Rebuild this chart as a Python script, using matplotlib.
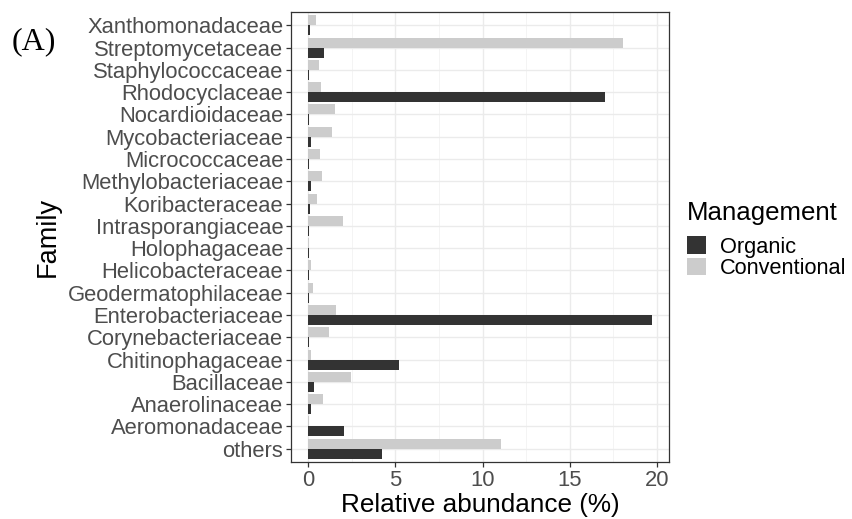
import matplotlib
matplotlib.use("Agg")
import matplotlib.pyplot as plt
import numpy as np
from matplotlib.patches import Patch

families = ["Xanthomonadaceae", "Streptomycetaceae", "Staphylococcaceae", "Rhodocyclaceae",
            "Nocardioidaceae", "Mycobacteriaceae", "Micrococcaceae", "Methylobacteriaceae",
            "Koribacteraceae", "Intrasporangiaceae", "Holophagaceae", "Helicobacteraceae",
            "Geodermatophilaceae", "Enterobacteriaceae", "Corynebacteriaceae", "Chitinophagaceae",
            "Bacillaceae", "Anaerolinaceae", "Aeromonadaceae", "others"]
organic = [0.08, 0.92, 0.07, 17.0, 0.06, 0.15, 0.03, 0.15, 0.11, 0.06,
           0.06, 0.05, 0.05, 19.7, 0.04, 5.23, 0.31, 0.15, 2.06, 4.26]
conventional = [0.42, 18.05, 0.63, 0.71, 1.55, 1.36, 0.67, 0.8, 0.53, 1.97,
                0.02, 0.15, 0.29, 1.6, 1.18, 0.15, 2.48, 0.86, 0.06, 11.06]
x_ticks = [0, 5, 10, 15, 20]

plt.rcParams["font.family"] = ["Liberation Sans", "DejaVu Sans"]

fig = plt.figure(figsize=(8.52, 5.19), dpi=100)
ax = fig.add_axes([291 / 852, 1 - 462 / 519, (669 - 291) / 852, (462 - 12) / 519])

n = len(families)
y = np.arange(n)[::-1]  # first family at the top
h = 0.45
dark, light = "#333333", "#CCCCCC"
ax.barh(y - h / 2, organic, height=h, color=dark, zorder=3)
ax.barh(y + h / 2, conventional, height=h, color=light, zorder=3)

xmax = max(max(organic), max(conventional))
pad = 0.05 * xmax
ax.set_xlim(-pad, xmax + pad)
ax.set_ylim(-0.6, n - 1 + 0.6)

ax.set_xticks(x_ticks)
ax.set_xticks([2.5, 7.5, 12.5, 17.5], minor=True)
ax.set_yticks(y)
ax.set_yticklabels(families)
ax.grid(which="major", color="#EBEBEB", linewidth=1.0, zorder=0)
ax.grid(which="minor", axis="x", color="#F3F3F3", linewidth=0.6, zorder=0)
ax.set_axisbelow(True)
ax.tick_params(axis="both", which="major", length=3.5, width=0.9, color="#333333",
               labelcolor="#4D4D4D", labelsize=15.8, pad=2)
ax.tick_params(axis="x", which="minor", length=0)
for s in ax.spines.values():
    s.set_color("#333333")
    s.set_linewidth(0.9)

ax.set_xlabel("Relative abundance (%)", fontsize=18.8, color="black", labelpad=2)
ax.set_ylabel("Family", fontsize=19.5, color="black", labelpad=5)

handles = [Patch(facecolor=dark, label="Organic"), Patch(facecolor=light, label="Conventional")]
leg = fig.legend(handles=handles, title="Management", loc="center left",
                 bbox_to_anchor=(687 / 852, 1 - 240 / 519), frameon=False, fontsize=15.7,
                 title_fontsize=18.6, handlelength=0.85, handleheight=0.85,
                 handletextpad=0.65, labelspacing=0.0, borderaxespad=0, borderpad=0)
leg._legend_box.align = "left"
leg._legend_box.sep = 8

fig.text(12 / 852, 1 - 42 / 519, "(A)", fontsize=23, family="Liberation Serif",
         color="black", va="center", ha="left")

fig.savefig("out.png", dpi=100)
